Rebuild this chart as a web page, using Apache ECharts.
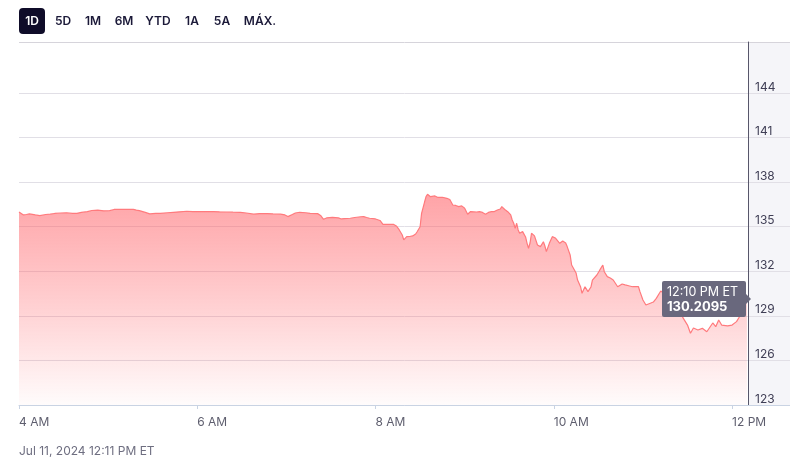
<!DOCTYPE html>
<html>
<head>
<meta charset="utf-8">
<script src="https://cdn.jsdelivr.net/npm/echarts@6/dist/echarts.min.js"></script>
<style>
  html, body { margin: 0; padding: 0; background: #ffffff; }
  #chart { width: 790px; height: 463px; }
</style>
</head>
<body>
<div id="chart"></div>
<script>
// Minutes elapsed since 4:00 AM ET
const minutes = [0,1,3,5,7,11,14,18,21,24,28,32,36,39,42,46,49,53,57,61,
  64,66,71,77,79,81,85,88,92,95,100,104,108,113,117,122,127,131,135,140,
  144,149,153,158,162,167,171,176,179,181,184,186,189,193,196,201,203,205,207,208,
  211,215,217,219,223,226,230,232,234,236,240,243,245,248,252,254,256,258,259,261,
  263,265,267,268,270,271,273,274,275,277,278,280,282,283,285,288,290,291,292,294,
  296,298,300,302,304,305,308,310,312,314,316,318,320,322,324,325,327,329,331,332,
  333,334,335,336,337,339,341,342,343,344,345,347,349,351,353,354,355,357,359,361,
  362,364,366,368,369,371,372,375,376,378,379,381,383,385,386,389,391,393,394,395,
  396,398,400,403,406,408,411,413,417,418,420,422,423,425,427,429,432,434,436,438,
  442,445,447,450,452,454,457,460,463,467,469,471,473,477,480,483,485,487,489,490];

const prices = [135.99,136.01,135.79,135.82,135.86,135.79,135.74,135.82,135.84,135.89,135.92,135.94,135.89,135.90,135.96,136.01,136.09,136.12,136.07,136.08,
  136.16,136.17,136.16,136.17,136.12,136.08,135.96,135.86,135.89,135.90,135.94,135.97,136.00,136.04,136.01,136.01,136.02,136.01,136.00,135.99,
  135.98,135.97,135.92,135.84,135.88,135.88,135.86,135.84,135.79,135.68,135.82,135.92,135.97,135.94,135.90,135.88,135.76,135.50,135.59,135.61,
  135.63,135.59,135.52,135.54,135.57,135.62,135.67,135.68,135.62,135.57,135.52,135.42,135.15,135.15,135.16,135.05,134.78,134.44,134.11,134.33,
  134.34,134.38,134.51,134.66,135.00,135.90,136.66,137.02,137.18,137.02,137.10,137.07,136.97,136.91,136.98,136.91,136.83,136.80,136.46,136.43,
  136.35,136.40,136.24,135.84,136.02,136.06,135.99,136.01,135.96,135.84,135.96,136.01,136.02,136.12,136.19,136.35,136.16,136.01,135.79,135.45,
  135.23,134.89,135.23,134.78,134.56,134.67,134.31,133.88,133.55,133.90,134.56,134.38,133.77,133.66,133.99,133.70,133.32,133.88,134.33,134.24,
  134.11,133.88,134.04,133.90,133.66,133.10,132.42,131.88,131.41,130.96,130.52,130.96,130.63,130.94,131.41,131.75,132.09,132.42,131.97,131.88,
  131.64,131.55,131.41,130.96,131.14,131.08,131.01,130.96,130.96,130.63,130.07,129.73,129.80,129.85,129.93,130.18,130.67,130.52,130.27,130.07,
  129.80,129.33,128.86,128.38,127.83,128.18,128.05,128.16,127.93,128.52,128.27,128.72,128.38,128.32,128.38,128.61,128.94,129.39,129.87,130.2095];

const xTickValues = [0, 120, 240, 360, 480];
const xTickLabels = ['4 AM', '6 AM', '8 AM', '10 AM', '12 PM'];
const yTickValues = [123, 126, 129, 132, 135, 138, 141, 144];
const rangeButtons = ['1D', '5D', '1M', '6M', 'YTD', '1A', '5A', 'MÁX.'];
const footerText = 'Jul 11, 2024 12:11 PM ET';

const data = minutes.map((m, i) => [m, prices[i]]);

function minuteToClock(m) {
  const total = 4 * 60 + m;
  let h = Math.floor(total / 60);
  const mm = total % 60;
  const ampm = h >= 12 ? 'PM' : 'AM';
  h = h % 12; if (h === 0) h = 12;
  return h + ':' + String(mm).padStart(2, '0') + ' ' + ampm + ' ET';
}

const FONT = 'Inter, "Noto Sans", sans-serif';
const chart = echarts.init(document.getElementById('chart'), null, { renderer: 'canvas' });

const buttonCenters = [32, 63, 93, 124, 158, 192, 222, 260];
const buttonGraphics = [
  { type: 'rect', left: 19, top: 8, shape: { width: 26, height: 26, r: 4 }, style: { fill: '#0f0c29' } }
];
rangeButtons.forEach((b, i) => {
  buttonGraphics.push({
    type: 'text', x: buttonCenters[i], y: 21,
    style: { text: b, fill: i === 0 ? '#ffffff' : '#1b1938', font: '600 12px ' + FONT, align: 'center', verticalAlign: 'middle' }
  });
});

chart.setOption({
  animation: false,
  textStyle: { fontFamily: FONT },
  grid: { left: 19, right: 0, top: 42, bottom: 58 },
  graphic: [
    { type: 'rect', z: -10, left: 748, top: 42, shape: { width: 42, height: 363 }, style: { fill: '#f5f5f9' } },
    ...buttonGraphics,
    { type: 'text', x: 19, y: 451, style: { text: footerText, fill: '#6e6e80', font: '12px ' + FONT, verticalAlign: 'middle' } }
  ],
  xAxis: {
    type: 'value', min: 0, max: 519, interval: 120,
    axisLine: { show: true, onZero: false, lineStyle: { color: '#c9d3e3', width: 1 } },
    axisTick: { show: true, customValues: xTickValues, length: 4, lineStyle: { color: '#c9d3e3' } },
    axisLabel: {
      customValues: xTickValues,
      formatter: v => xTickLabels[xTickValues.indexOf(v)] || '',
      align: 'left', margin: 11, color: '#5e5e6e', fontSize: 12, fontFamily: FONT
    },
    splitLine: { show: false }
  },
  yAxis: {
    type: 'value', position: 'right', offset: -42, min: 123, max: 147.43, interval: 3,
    axisLine: { show: true, onZero: false, lineStyle: { color: '#57566a', width: 1 } },
    axisTick: { show: false },
    axisLabel: {
      customValues: yTickValues, margin: 7, align: 'left', verticalAlign: 'bottom', lineHeight: 12,
      color: '#3f3e55', fontSize: 12, fontFamily: FONT
    },
    splitLine: {
      show: true,
      lineStyle: { color: ['#e1dfe6', '#e1dfe6', '#e1dfe6', '#e1dfe6', '#e1dfe6', '#e1dfe6', '#e1dfe6', '#e1dfe6', 'rgba(0,0,0,0)', '#d6d4db'], width: 1 }
    }
  },
  tooltip: {
    trigger: 'axis', triggerOn: 'none', alwaysShowContent: true,
    axisPointer: { type: 'none' },
    backgroundColor: 'transparent', borderWidth: 0, padding: 0,
    extraCssText: 'box-shadow:none;',
    position: (point, params, dom, rect, size) => [point[0] - size.contentSize[0] - 1, point[1] - size.contentSize[1] / 2 + 1],
    formatter: params => {
      const p = params[0];
      return '<div style="position:relative;background:#69687d;color:#fff;border-radius:2px;padding:4px 8px 4px 5px;font:12.5px ' + FONT.replace(/"/g, "'") + ';line-height:14px;">' +
        '<div>' + minuteToClock(p.value[0]) + '</div>' +
        '<div style="font-weight:700;font-size:13px;">' + p.value[1].toFixed(4) + '</div>' +
        '<span style="position:absolute;right:-5px;top:50%;margin-top:-5px;width:0;height:0;border-top:5px solid transparent;border-bottom:5px solid transparent;border-left:5px solid #69687d;"></span>' +
        '</div>';
    }
  },
  series: [{
    type: 'line', data: data, showSymbol: false, symbol: 'none',
    lineStyle: { color: '#ff6f72', width: 1.2 },
    areaStyle: {
      origin: 'start',
      color: new echarts.graphic.LinearGradient(0, 0, 0, 1, [
        { offset: 0, color: 'rgba(255,92,98,0.85)' },
        { offset: 0.45, color: 'rgba(255,92,98,0.5)' },
        { offset: 1, color: 'rgba(255,92,98,0.03)' }
      ])
    }
  }]
});

chart.dispatchAction({ type: 'showTip', seriesIndex: 0, dataIndex: data.length - 1 });
</script>
</body>
</html>
